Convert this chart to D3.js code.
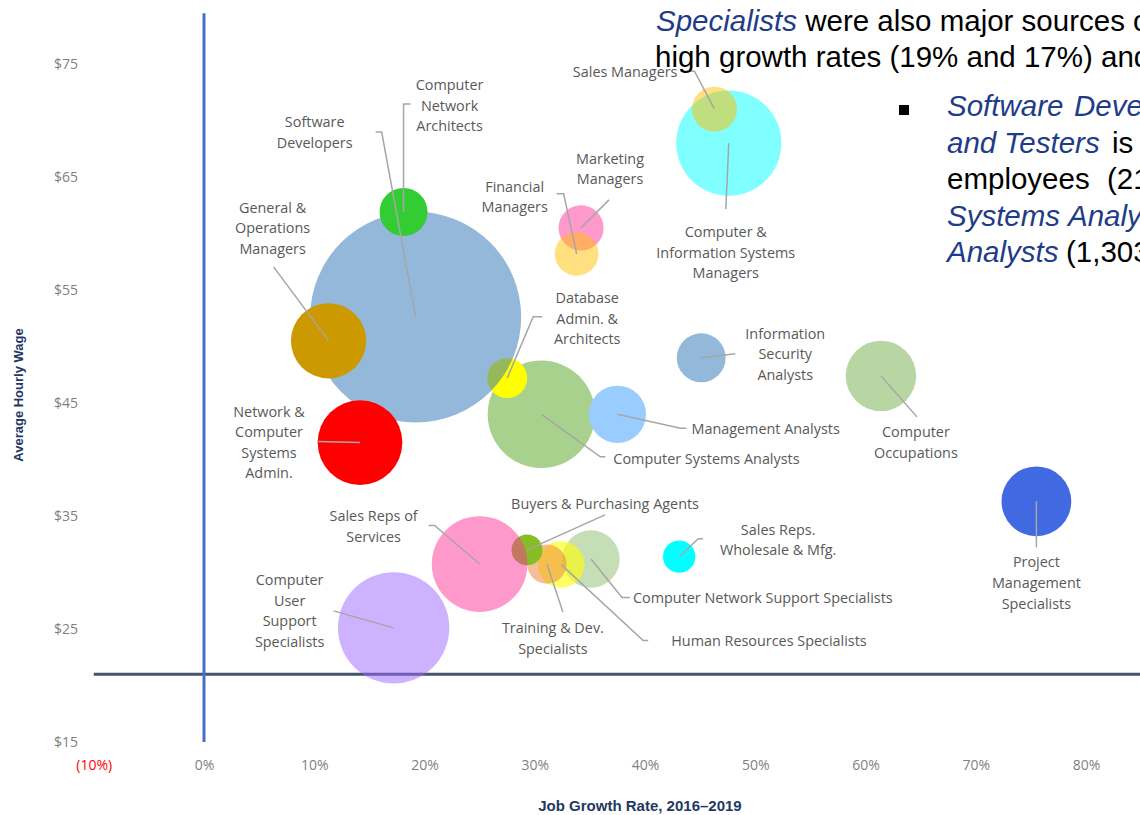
<!DOCTYPE html>
<html><head><meta charset="utf-8">
<script src="https://cdn.jsdelivr.net/npm/d3@7"></script>
<style>html,body{margin:0;padding:0;background:#fff;overflow:hidden}</style>
</head><body><svg id="c" width="1140" height="815"></svg>
<script>
// ---------- DATA ----------
const occupations = [
  "Computer & Information Systems Managers", "Sales Managers", "Marketing Managers", "Financial Managers",
  "Computer Systems Analysts", "Database Admin. & Architects", "Software Developers",
  "General & Operations Managers", "Computer Network Architects", "Network & Computer Systems Admin.",
  "Management Analysts", "Information Security Analysts", "Computer Occupations",
  "Project Management Specialists", "Computer Network Support Specialists", "Human Resources Specialists",
  "Training & Dev. Specialists", "Buyers & Purchasing Agents", "Sales Reps of Services",
  "Computer User Support Specialists", "Sales Reps. Wholesale & Mfg."
];
const growthRate = [0.476, 0.463, 0.342, 0.338, 0.306, 0.275, 0.192, 0.113, 0.181, 0.1415,
  0.375, 0.451, 0.614, 0.755, 0.351, 0.324, 0.311, 0.293, 0.250, 0.172, 0.431];
const hourlyWage = [68.0, 71.0, 60.5, 58.2, 44.0, 47.2, 52.6, 50.5, 61.9, 41.5,
  44.0, 49.0, 47.4, 36.3, 31.2, 30.7, 30.75, 32.0, 30.75, 25.1, 31.4];
const employment = [1250, 230, 230, 215, 1303, 180, 5030, 640, 260, 810,
  370, 270, 560, 550, 373, 244, 174, 108, 1035, 1400, 118];
const xTickValues = [-0.1, 0, 0.1, 0.2, 0.3, 0.4, 0.5, 0.6, 0.7, 0.8];
const yTickValues = [15, 25, 35, 45, 55, 65, 75];
const wageBaseline = 21;

// ---------- STYLE ----------
const fills = ["#00ffff", "#ffc000", "#ff3399", "#ffc000", "#a9d18e", "#ffff00", "#2971b3",
  "#cc9900", "#33cc33", "#ff0000", "#99ccff", "#2971b3", "#70ad47", "#4169e1",
  "#70ad47", "#ffff00", "#ed7d31", "#86bc25", "#ff3399", "#9966ff", "#00ffff"];
const opac = [0.5, 0.5, 0.5, 0.5, 1, 1, 0.5, 1, 1, 1, 1, 0.5, 0.5, 1, 0.4, 0.6, 0.5, 1, 0.5, 0.5, 1];

// label layout: text lines, anchor, offset of first line from bubble centre, leader polyline offsets
const labelLayout = [
  {lines:["Computer &","Information Systems","Managers"], a:"middle", dx:-3, dy:89, leader:[[0,0],[-3,66]]},
  {lines:["Sales Managers"], a:"end", dx:-37, dy:-37, leader:[[0,0],[-20,-38],[-34,-38]]},
  {lines:["Marketing","Managers"], a:"middle", dx:29, dy:-69, leader:[[0,0],[28,-28]]},
  {lines:["Financial","Managers"], a:"middle", dx:-62, dy:-67, leader:[[0,0],[-13,-60],[-20,-60]]},
  {lines:["Computer Systems Analysts"], a:"start", dx:72, dy:45, leader:[[0,0],[59,42.5],[64,42.5]]},
  {lines:["Database","Admin. &","Architects"], a:"middle", dx:80, dy:-80, leader:[[0,0],[26,-61.5],[35,-61.5]]},
  {lines:["Software","Developers"], a:"middle", dx:-101, dy:-195, leader:[[0,0],[-34,-185],[-40,-185]]},
  {lines:["General &","Operations","Managers"], a:"middle", dx:-56, dy:-133, leader:[[0,0],[-55,-74]]},
  {lines:["Computer","Network","Architects"], a:"middle", dx:46, dy:-127, leader:[[0,0],[0,-108],[7,-108]]},
  {lines:["Network &","Computer","Systems","Admin."], a:"middle", dx:-91, dy:-31, leader:[[0,0],[-43,-1]]},
  {lines:["Management Analysts"], a:"start", dx:74, dy:15, leader:[[0,0],[63,14],[69,14]]},
  {lines:["Information","Security","Analysts"], a:"middle", dx:84, dy:-24, leader:[[0,0],[34,-4]]},
  {lines:["Computer","Occupations"], a:"middle", dx:35, dy:56, leader:[[0,0],[36,41]]},
  {lines:["Project","Management","Specialists"], a:"middle", dx:0, dy:61, leader:[[0,0],[0,46]]},
  {lines:["Computer Network Support Specialists"], a:"start", dx:42, dy:39, leader:[[0,0],[31,38.5],[39,38.5]]},
  {lines:["Human Resources Specialists"], a:"start", dx:110, dy:76, leader:[[0,0],[82,76],[87,76]]},
  {lines:["Training & Dev.","Specialists"], a:"middle", dx:6, dy:64, leader:[[0,0],[16,48]]},
  {lines:["Buyers & Purchasing Agents"], a:"middle", dx:78, dy:-46, leader:[[0,0],[78,-35]]},
  {lines:["Sales Reps of","Services"], a:"middle", dx:-106, dy:-48, leader:[[0,0],[-45,-38.5],[-51,-38.5]]},
  {lines:["Computer","User","Support","Specialists"], a:"middle", dx:-104, dy:-48, leader:[[0,0],[-60,-17]]},
  {lines:["Sales Reps.","Wholesale & Mfg."], a:"middle", dx:99, dy:-27, leader:[[0,0],[19,-18],[24,-18]]}
];

const svg = d3.select("#c");
const x = d3.scaleLinear().domain([-0.1, 0.9]).range([93.75, 1196.25]);
const y = d3.scaleLinear().domain([15, 80]).range([742, 7.5]);
const r = d3.scaleSqrt().domain([0, 5030]).range([0, 105.5]);

const data = occupations.map((name, i) => ({name, g: growthRate[i], w: hourlyWage[i], e: employment[i], i}));

// axes lines
svg.append("line").attr("x1", x(-0.1)).attr("x2", 1140).attr("y1", y(wageBaseline)).attr("y2", y(wageBaseline))
  .attr("stroke", "#44546a").attr("stroke-width", 3);
svg.append("line").attr("x1", x(0)).attr("x2", x(0)).attr("y1", y(79.5)).attr("y2", y(15))
  .attr("stroke", "#4472c4").attr("stroke-width", 3);

// bubbles
svg.append("g").selectAll("circle").data(data).join("circle")
  .attr("cx", d => x(d.g)).attr("cy", d => y(d.w)).attr("r", d => r(d.e))
  .attr("fill", d => fills[d.i]).attr("fill-opacity", d => opac[d.i]);

// leaders
const lg = svg.append("g");
data.forEach(d => {
  const cx = x(d.g), cy = y(d.w), L = labelLayout[d.i];
  lg.append("polyline").attr("points", L.leader.map(p => [cx + p[0], cy + p[1]].join(",")).join(" "))
    .attr("fill", "none").attr("stroke", "#a6a6a6").attr("stroke-width", 1.5);
});
// labels
const tg = svg.append("g").attr("font-family", "'Open Sans', sans-serif").attr("font-size", 14.4).attr("fill", "#595959");
data.forEach(d => {
  const cx = x(d.g), cy = y(d.w), L = labelLayout[d.i];
  const t = tg.append("text").attr("text-anchor", L.a);
  L.lines.forEach((ln, k) => {
    t.append("tspan").attr("x", cx + L.dx).attr("y", cy + L.dy + k * 20.6).attr("dy", "0.35em").text(ln);
  });
});

// x axis
const fmtX = v => v < 0 ? `(${Math.round(-v * 100)}%)` : `${Math.round(v * 100)}%`;
const gx = svg.append("g").attr("transform", "translate(0,765)")
  .call(d3.axisBottom(x).tickValues(xTickValues).tickFormat(fmtX).tickSize(0).tickPadding(0));
gx.select(".domain").remove();
gx.selectAll("text").attr("y", 0).attr("dy", "0.35em")
  .attr("font-family", "'Open Sans', sans-serif").attr("font-size", 14)
  .attr("fill", d => d < 0 ? "#ff0000" : "#7f7f7f");

// y axis
const gy = svg.append("g").attr("transform", "translate(78,0)")
  .call(d3.axisLeft(y).tickValues(yTickValues).tickFormat(v => "$" + v).tickSize(0).tickPadding(0));
gy.select(".domain").remove();
gy.selectAll("text").attr("x", 0).attr("dy", "0.35em")
  .attr("font-family", "'Open Sans', sans-serif").attr("font-size", 14).attr("fill", "#7f7f7f");

// axis titles
svg.append("text").attr("x", 640).attr("y", 806).attr("dy", "0.35em").attr("text-anchor", "middle")
  .attr("font-family", "'Liberation Sans Narrow', 'Arial Narrow', sans-serif").attr("font-weight", "bold")
  .attr("font-size", 15).attr("fill", "#1f3864").text("Job Growth Rate, 2016–2019");
svg.append("text").attr("transform", "translate(18,395) rotate(-90)").attr("dy", "0.35em").attr("text-anchor", "middle")
  .attr("font-family", "'Liberation Sans Narrow', 'Arial Narrow', sans-serif").attr("font-weight", "bold")
  .attr("font-size", 13).attr("fill", "#1f3864").text("Average Hourly Wage");

// overlapping slide text (top right)
const navy = "#1f3c88";
const pg = svg.append("g").attr("font-family", "'Liberation Sans', Arial, sans-serif").attr("font-size", 29.5).attr("fill", "#000");
const l1 = pg.append("text").attr("x", 656).attr("y", 31);
l1.append("tspan").attr("font-style", "italic").attr("fill", navy).text("Specialists");
l1.append("tspan").text(" were also major sources of new jobs");
pg.append("text").attr("x", 655).attr("y", 67).text("high growth rates (19% and 17%) and");
pg.append("rect").attr("x", 899).attr("y", 105).attr("width", 10).attr("height", 10).attr("fill", "#000");
const rows = [
  [["Software", navy, true, 947], ["Developers", navy, true, 1074]],
  [["and", navy, true, 947], ["Testers", navy, true, 1004], ["is", "#000", false, 1112]],
  [["employees", "#000", false, 947], ["(21", "#000", false, 1107]],
  [["Systems", navy, true, 947], ["Analysts", navy, true, 1068]],
  [["Analysts", navy, true, 947], ["(1,303)", "#000", false, 1066]]
];
rows.forEach((row, k) => {
  row.forEach(([txt, col, it, xx]) => {
    pg.append("text").attr("x", xx).attr("y", 116 + k * 36.5).attr("fill", col)
      .attr("font-style", it ? "italic" : "normal").text(txt);
  });
});
</script></body></html>
